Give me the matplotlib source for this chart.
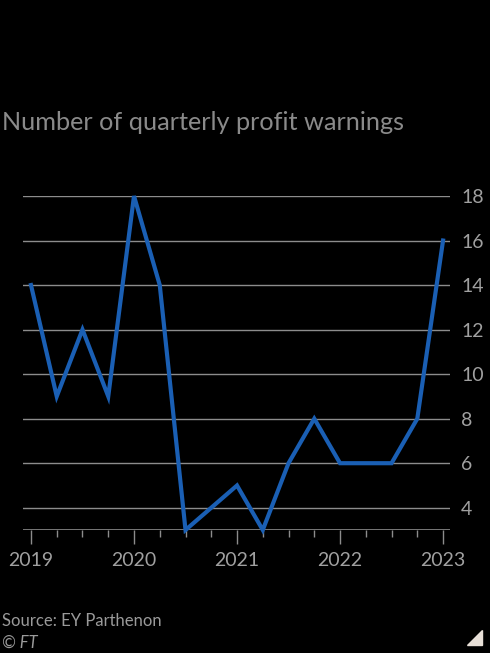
import matplotlib
matplotlib.use("Agg")
import matplotlib.pyplot as plt
from matplotlib.patches import Polygon

# quarterly counts, 2019 Q1 .. 2023 Q1
quarters = list(range(17))
warnings = [14, 9, 12, 9, 18, 14, 3, 4, 5, 3, 6, 8, 6, 6, 6, 8, 16]
year_pos = [0, 4, 8, 12, 16]
year_labels = ["2019", "2020", "2021", "2022", "2023"]
y_ticks = [4, 6, 8, 10, 12, 14, 16, 18]

plt.rcParams['font.family'] = ['Lato', 'DejaVu Sans']

fig = plt.figure(figsize=(4.9, 6.53), dpi=100, facecolor="black")
ax = fig.add_axes([23/490, 123/653, 427/490, 334/653])
ax.set_facecolor("black")

for y in y_ticks:
    ax.axhline(y, color="#8c8c8c", lw=1, zorder=1)
ax.axhline(3, color="#8c8c8c", lw=1.2, zorder=1)

ax.plot(quarters, warnings, color="#1a5fb4", lw=3, solid_joinstyle="miter",
        zorder=3, clip_on=False)

ax.set_xlim(-0.31, 16.27)
ax.set_ylim(3, 18)

for s in ax.spines.values():
    s.set_visible(False)

ax.yaxis.tick_right()
ax.set_yticks(y_ticks)
ax.tick_params(axis="y", length=0, pad=8, labelsize=14, labelcolor="#a0a0a0")

ax.set_xticks(quarters, minor=True)
ax.set_xticks(year_pos)
ax.set_xticklabels(year_labels)
ax.tick_params(axis="x", which="major", length=10, width=1, color="#8c8c8c",
               labelsize=14, labelcolor="#a0a0a0", pad=6)
ax.tick_params(axis="x", which="minor", length=5, width=1, color="#8c8c8c")

fig.text(2/490, 1 - 122/653, "Number of quarterly profit warnings", color="#8a8a8a",
         fontsize=18.2, va="center", ha="left")
fig.text(2/490, 1 - 621/653, "Source: EY Parthenon", color="#9a9a9a",
         fontsize=12, va="center", ha="left")
fig.text(2/490, 1 - 643/653, "© FT", color="#9a9a9a", fontsize=12,
         va="center", ha="left", style="italic")

tri = Polygon([[482/490, 1 - 630/653], [482/490, 1 - 645/653], [467/490, 1 - 645/653]],
              closed=True, transform=fig.transFigure, color="#e8e0d8")
fig.patches.append(tri)

fig.savefig("out.png", dpi=100, facecolor="black")
